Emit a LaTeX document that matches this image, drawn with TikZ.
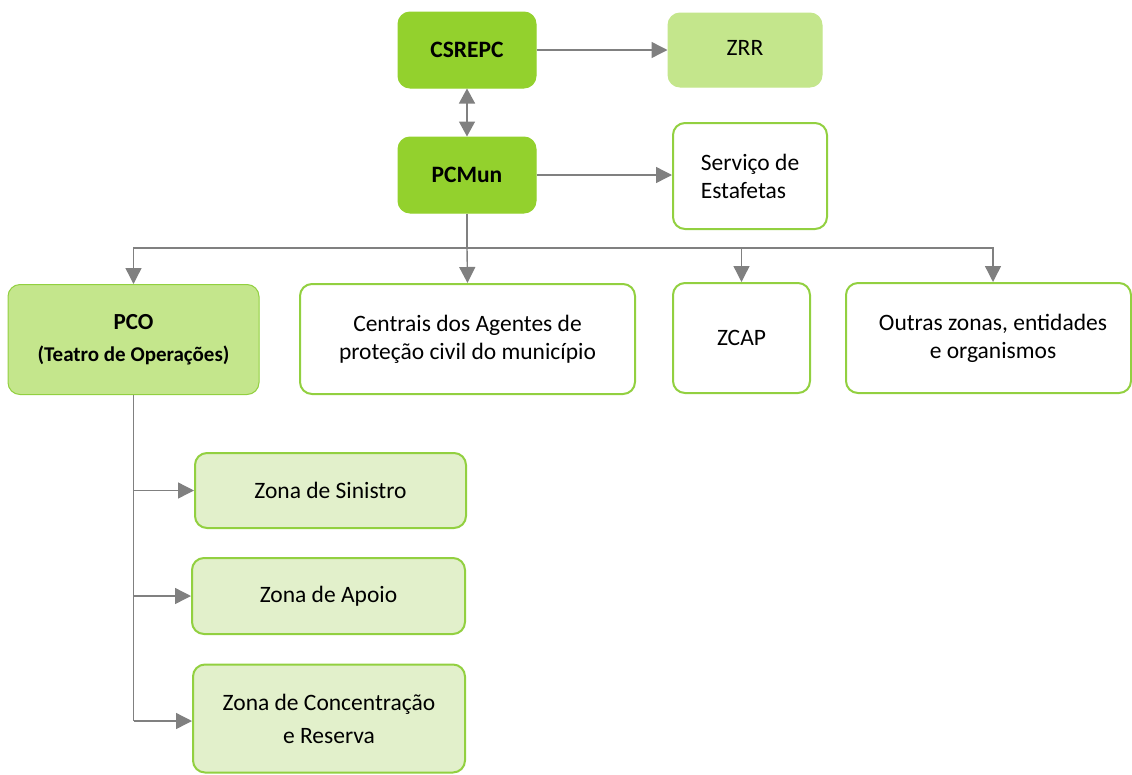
\documentclass[tikz,border=0pt]{standalone}
\usepackage{fontspec}
\setmainfont{Carlito}
\usetikzlibrary{arrows.meta,calc}
\definecolor{darkG}{RGB}{147,209,45}
\definecolor{midG}{RGB}{196,230,140}
\definecolor{lightG}{RGB}{226,240,203}
\definecolor{borderG}{RGB}{146,208,64}
\definecolor{lineC}{RGB}{128,128,128}
\begin{document}
\begin{tikzpicture}[x=1pt,y=-1pt,
  box/.style={rectangle, rounded corners=12pt, inner sep=0pt, align=center,
    font=\fontsize{23.5pt}{28pt}\selectfont, text=black},
  darkbox/.style={box, fill=darkG, draw=darkG, line width=1pt, font=\fontsize{23.5pt}{28pt}\selectfont\bfseries},
  midbox/.style={box, fill=midG, draw=midG, line width=1pt},
  whitebox/.style={box, fill=white, draw=borderG, line width=2pt},
  zonebox/.style={box, fill=lightG, draw=borderG, line width=2pt},
  conn/.style={draw=lineC, line width=1.4pt},
  arr/.style={conn, -{Triangle[length=16pt,width=16pt]}},
  darr/.style={conn, {Triangle[length=15pt,width=16pt]}-{Triangle[length=15pt,width=16pt]}}
]
\useasboundingbox (0,0) rectangle (1132,774);

% top nodes
\node[darkbox, minimum width=138pt, minimum height=76pt] (csrepc) at (467,50) {CSREPC};
\node[midbox, minimum width=154pt, minimum height=74pt] (zrr) at (745,50) {\raisebox{5pt}{ZRR}};
\node[darkbox, minimum width=138pt, minimum height=76pt] (pcmun) at (467,175) {PCMun};
\node[whitebox, minimum width=154pt, minimum height=106pt, align=left] (serv) at (750,176) {Serviço de\\Estafetas};

% second row
\node[midbox, draw=borderG, minimum width=251pt, minimum height=110pt] (pco) at (133.5,339.5)
  {\fontsize{23pt}{28pt}\selectfont\bfseries PCO\\[4pt]\fontsize{21pt}{26pt}\selectfont\bfseries (Teatro de Operações)};
\node[whitebox, minimum width=335pt, minimum height=110pt] (centr) at (467.5,339)
  {Centrais dos Agentes de\\proteção civil do município};
\node[whitebox, minimum width=137pt, minimum height=110pt] (zcap) at (741.5,338) {ZCAP};
\node[whitebox, minimum width=285pt, minimum height=110pt] (outras) at (988.5,338)
  {\hspace*{9pt}Outras zonas, entidades\\\hspace*{9pt}e organismos};

% zones
\node[zonebox, minimum width=271pt, minimum height=75pt] (zs) at (330.5,490.5) {Zona de Sinistro};
\node[zonebox, minimum width=273pt, minimum height=76pt] (za) at (328.5,596) {Zona de Apoio};
\node[zonebox, minimum width=272pt, minimum height=108pt, font=\fontsize{23.5pt}{33pt}\selectfont] (zc) at (329,718.5) {Zona de Concentração\\e Reserva};

% connectors
\draw[arr] (csrepc.east) -- (zrr.west);
\draw[darr] (csrepc.south) -- (pcmun.north);
\draw[arr] (pcmun.east) -- (pcmun.east -| serv.west);

\coordinate (bus) at (467,248);
\draw[conn] (pcmun.south) -- (bus);
\draw[arr] (bus) -| (pco.north);
\draw[arr] (bus) -- (centr.north);
\draw[arr] (bus) -| (zcap.north);
\draw[arr] (bus) -| ([xshift=4.5pt]outras.north);

\coordinate (pcoend) at (pco.south |- 0,721);
\draw[conn] (pco.south) -- (pcoend);
\draw[arr] (pco.south |- zs.west) -- (zs.west);
\draw[arr] (pco.south |- za.west) -- (za.west);
\draw[arr] (pcoend) -- (zc.west |- pcoend);
\end{tikzpicture}
\end{document}
